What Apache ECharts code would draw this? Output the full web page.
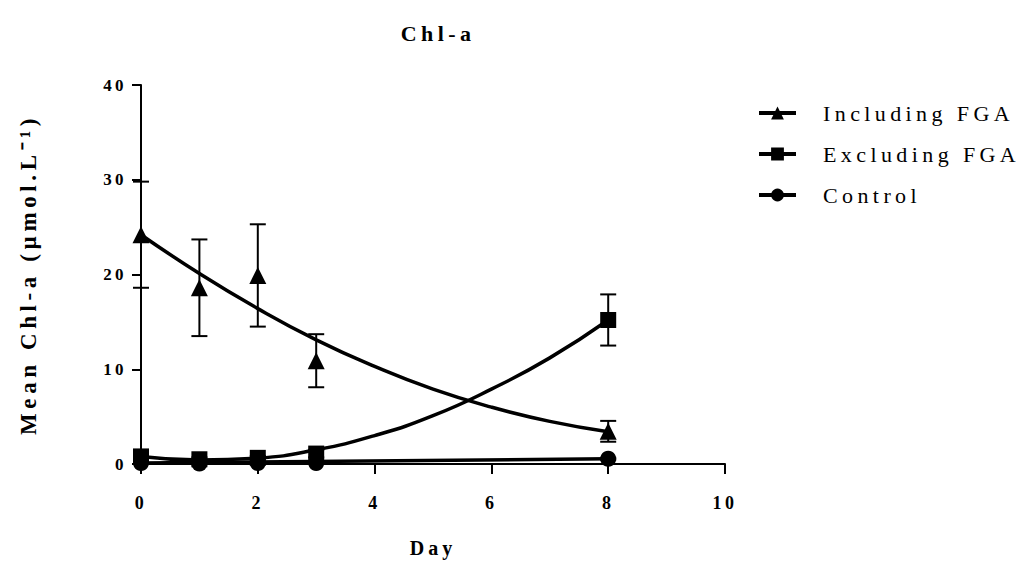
<!DOCTYPE html>
<html>
<head>
<meta charset="utf-8">
<script src="https://cdn.jsdelivr.net/npm/echarts@6/dist/echarts.min.js"></script>
<style>
html,body{margin:0;padding:0;background:#fff;}
#main{width:1019px;height:563px;}
#main text{letter-spacing:0.2em;}
</style>
</head>
<body>
<div id="main"></div>
<script>
// ---- data ----
const days = [0, 1, 2, 3, 8];
const seriesNames = ['Including FGA', 'Excluding FGA', 'Control'];
const includingMean = [24.2, 18.6, 19.9, 10.9, 3.45];
const includingSE   = [5.6, 5.1, 5.4, 2.8, 1.1];
const excludingMean = [0.8, 0.5, 0.65, 1.1, 15.2];
const excludingSE   = [0.3, 0.2, 0.2, 0.4, 2.7];
const controlMean   = [0.1, 0.05, 0.1, 0.1, 0.55];
const controlSE     = [0.05, 0.05, 0.05, 0.05, 0.1];
// fitted curves, read at whole days
const curveDays      = [0, 1, 2, 3, 4, 5, 6, 7, 8];
const includingCurve = [24.2, 20.1, 16.4, 13.1, 10.3, 7.9, 6.0, 4.5, 3.4];
const excludingCurve = [0.8, 0.42, 0.62, 1.5, 3.0, 5.1, 7.9, 11.2, 15.2];
const controlCurveDays = [0, 8];
const controlCurve     = [0.1, 0.55];
const xTicks = [0, 2, 4, 6, 8, 10];
const yTicks = [0, 10, 20, 30, 40];

const FONT = 'Liberation Serif, Times New Roman, serif';
const pairs = (xs, ys) => xs.map((x, i) => [x, ys[i]]);
const errData = (m, s) => days.map((d, i) => [d, m[i] - s[i], m[i] + s[i]]);

function errorBar(params, api) {
  const x = api.value(0);
  const lo = api.coord([x, api.value(1)]);
  const hi = api.coord([x, api.value(2)]);
  const half = 8;
  const st = { stroke: '#000', lineWidth: 2 };
  return {
    type: 'group',
    children: [
      { type: 'line', shape: { x1: lo[0], y1: lo[1], x2: hi[0], y2: hi[1] }, style: st },
      { type: 'line', shape: { x1: lo[0] - half, y1: lo[1], x2: lo[0] + half, y2: lo[1] }, style: st },
      { type: 'line', shape: { x1: hi[0] - half, y1: hi[1], x2: hi[0] + half, y2: hi[1] }, style: st }
    ]
  };
}

const symbols = ['triangle', 'rect', 'circle'];
const means = [includingMean, excludingMean, controlMean];
const ses = [includingSE, excludingSE, controlSE];
const curves = [pairs(curveDays, includingCurve), pairs(curveDays, excludingCurve), pairs(controlCurveDays, controlCurve)];

const series = [];
seriesNames.forEach((name, k) => {
  series.push({
    name: name, type: 'line', data: curves[k], smooth: true,
    symbol: symbols[k], symbolSize: 16, showSymbol: false,
    lineStyle: { color: '#000', width: 3.5 }, itemStyle: { color: '#000' },
    z: 2, silent: true
  });
});
seriesNames.forEach((name, k) => {
  series.push({
    name: name, type: 'custom', renderItem: errorBar,
    data: errData(means[k], ses[k]), z: 3, silent: true
  });
  series.push({
    name: name, type: 'scatter', data: pairs(days, means[k]),
    symbol: symbols[k], symbolSize: k === 0 ? 17 : 16,
    itemStyle: { color: '#000', opacity: 1 }, z: 4, silent: true
  });
});

const chart = echarts.init(document.getElementById('main'), null, { renderer: 'svg' });
chart.setOption({
  animation: false,
  backgroundColor: '#fff',
  title: {
    text: 'Chl-a', left: 433, top: 17, textAlign: 'center',
    textStyle: { fontFamily: FONT, fontSize: 22, fontWeight: 'bold', color: '#000' }
  },
  legend: {
    data: seriesNames, orient: 'vertical', left: 752, top: 97,
    itemWidth: 37, itemHeight: 16, itemGap: 19,
    lineStyle: { width: 4, color: '#000' },
    textStyle: { fontFamily: FONT, fontSize: 22, color: '#000', padding: [0, 0, 0, 22] },
    selectedMode: false
  },
  grid: { left: 141, right: 294, top: 85, bottom: 95, containLabel: false },
  xAxis: {
    type: 'value', min: 0, max: 10, interval: 2,
    name: 'Day', nameLocation: 'middle', nameGap: 74,
    nameTextStyle: { fontFamily: FONT, fontSize: 20, fontWeight: 'bold', color: '#000' },
    axisLine: { lineStyle: { color: '#000', width: 2 } },
    axisTick: { show: true, inside: false, length: 10, lineStyle: { color: '#000', width: 2 } },
    axisLabel: { fontFamily: FONT, fontSize: 18, fontWeight: 'bold', color: '#000', margin: 30,
      formatter: v => xTicks.includes(v) ? String(v) : '' },
    splitLine: { show: false }
  },
  yAxis: {
    type: 'value', min: 0, max: 40, interval: 10,
    name: 'Mean Chl-a (µmol.L⁻¹)', nameLocation: 'middle', nameGap: 101, nameRotate: 90,
    nameTextStyle: { fontFamily: FONT, fontSize: 23, fontWeight: 'bold', color: '#000' },
    axisLine: { show: true, lineStyle: { color: '#000', width: 2 } },
    axisTick: { show: true, inside: false, length: 9, lineStyle: { color: '#000', width: 2 } },
    axisLabel: { fontFamily: FONT, fontSize: 17, fontWeight: 'bold', color: '#000', margin: 14,
      formatter: v => yTicks.includes(v) ? String(v) : '' },
    splitLine: { show: false }
  },
  series: series
});
</script>
</body>
</html>
